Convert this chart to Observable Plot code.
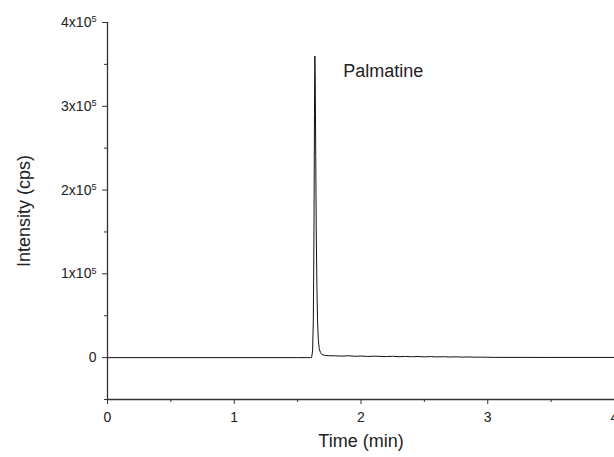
<!DOCTYPE html>
<html>
<head>
<meta charset="utf-8">
<script src="https://cdn.jsdelivr.net/npm/d3@7"></script>
<script src="https://cdn.jsdelivr.net/npm/@observablehq/plot@0.6"></script>
<style>
  html, body { margin: 0; padding: 0; background: #fff; overflow: hidden; }
  #chart svg { font-family: "Liberation Sans", Arial, sans-serif; }
</style>
</head>
<body>
<div id="chart"></div>
<script>
const time = [0, 0.5, 1.0, 1.5, 1.6, 1.61, 1.618, 1.624, 1.629, 1.633, 1.636, 1.639, 1.643, 1.647, 1.652, 1.657, 1.663, 1.67, 1.68, 1.69, 1.70, 1.72, 1.75, 1.80, 1.85, 1.90, 1.95, 2.00, 2.05, 2.10, 2.15, 2.20, 2.25, 2.30, 2.35, 2.40, 2.45, 2.50, 2.55, 2.60, 2.65, 2.70, 2.75, 2.80, 2.85, 2.90, 2.95, 3.00, 3.05, 3.5, 4.0];
const intensity = [0, 0, 0, 0, 0, 0, 8000, 45000, 150000, 290000, 360000, 330000, 240000, 150000, 85000, 45000, 22000, 11000, 6000, 4000, 3200, 2600, 2300, 2100, 1800, 2200, 1600, 1900, 1400, 1700, 1500, 1200, 1600, 1100, 1400, 1000, 1300, 900, 1200, 800, 1100, 700, 900, 600, 800, 500, 600, 400, 300, 200, 200];
const majorX = [0, 1, 2, 3, 4];
const minorX = [0.5, 1.5, 2.5, 3.5];
const majorY = [0, 100000, 200000, 300000, 400000];
const minorY = [-50000, 50000, 150000, 250000, 350000];
const peakLabel = [{t: 1.86, v: 342000, name: "Palmatine"}];
const xTitle = ["Time (min)"];
const yTitle = ["Intensity (cps)"];

const data = time.map((t, i) => ({t, v: intensity[i]}));
const axisColor = "#333";
const textColor = "#222";

const chart = Plot.plot({
  width: 614,
  height: 457,
  marginLeft: 107,
  marginRight: 0,
  marginTop: 22,
  marginBottom: 58,
  style: {fontFamily: '"Liberation Sans", Arial, sans-serif', fontSize: "14px", color: textColor, overflow: "hidden"},
  x: {domain: [0, 4]},
  y: {domain: [-50000, 400000]},
  marks: [
    Plot.axisX(majorX, {tickSize: 5, tickPadding: 8, stroke: axisColor, fontSize: 14, label: null, tickFormat: d => String(d)}),
    Plot.axisX(minorX, {tickSize: 3, stroke: axisColor, tickFormat: () => "", label: null}),
    Plot.axisY(majorY, {tickSize: 5, tickPadding: 6, stroke: axisColor, fontSize: 14, label: null, tickFormat: d => d === 0 ? "0" : `${d / 100000}x10^5`}),
    Plot.axisY(minorY, {tickSize: 3, stroke: axisColor, tickFormat: () => "", label: null}),
    Plot.ruleX([0], {stroke: axisColor, strokeWidth: 1.3}),
    Plot.ruleY([-50000], {stroke: axisColor, strokeWidth: 1.3}),
    Plot.line(data, {x: "t", y: "v", stroke: "#111", strokeWidth: 1}),
    Plot.text(peakLabel, {x: "t", y: "v", text: "name", textAnchor: "start", fontSize: 18, fill: textColor}),
    Plot.text(xTitle, {frameAnchor: "bottom", text: d => d, dy: 47, lineAnchor: "bottom", textAnchor: "middle", fontSize: 18, fill: textColor}),
    Plot.text(yTitle, {frameAnchor: "left", text: d => d, dx: -83, rotate: -90, textAnchor: "middle", fontSize: 18, fill: textColor})
  ]
});

// superscript exponents on y tick labels
d3.select(chart).selectAll("text").each(function() {
  const el = d3.select(this);
  const s = this.textContent;
  if (s.includes("x10^")) {
    const [base, exp] = s.split("^");
    el.text(base);
    el.append("tspan").attr("dy", "-0.5em").attr("font-size", "0.65em").text(exp);
  }
});

document.getElementById("chart").appendChild(chart);
</script>
</body>
</html>
